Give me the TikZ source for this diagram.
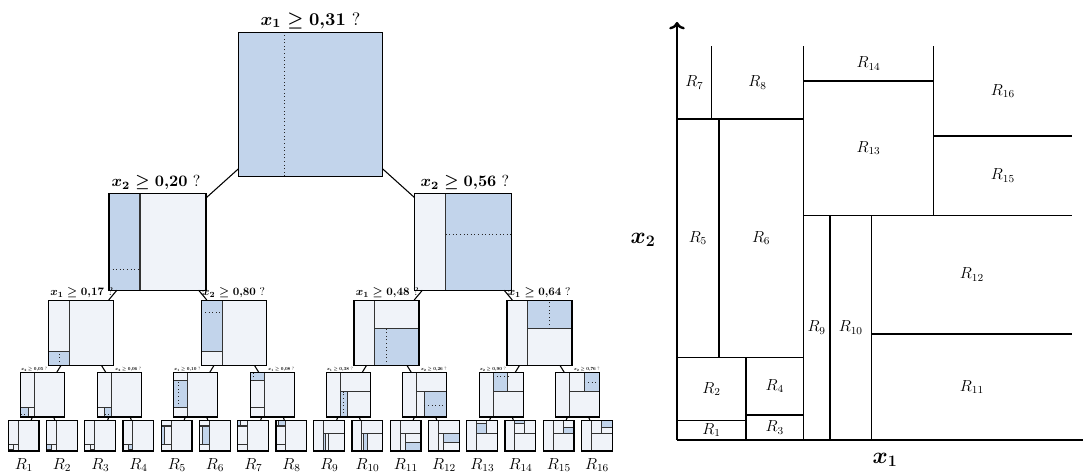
\documentclass[tikz,border=0pt]{standalone}
\usepackage{amsmath,amssymb}
\usepackage{xcolor}
\usepackage{tikz}
\usetikzlibrary{arrows.meta}

\definecolor{cellblue}{RGB}{194,212,235}
\definecolor{cellpale}{RGB}{240,243,249}

% cuts of the partition, in the unit square
\newcommand{\cutA}{(.32,0) -- (.32,1)}
\newcommand{\cutB}{(0,.21) -- (.32,.21)}
\newcommand{\cutC}{(.32,.57) -- (1,.57)}
\newcommand{\cutD}{(.175,0) -- (.175,.21)}
\newcommand{\cutE}{(0,.815) -- (.32,.815)}
\newcommand{\cutF}{(.493,0) -- (.493,.57)}
\newcommand{\cutG}{(.65,.57) -- (.65,1)}
\newcommand{\cutHa}{(0,.05) -- (.175,.05)}
\newcommand{\cutHb}{(.175,.063) -- (.32,.063)}
\newcommand{\cutHc}{(.106,.21) -- (.106,.815)}
\newcommand{\cutHd}{(.088,.815) -- (.088,1)}
\newcommand{\cutHe}{(.387,0) -- (.387,.57)}
\newcommand{\cutHf}{(.493,.269) -- (1,.269)}
\newcommand{\cutHg}{(.32,.911) -- (.65,.911)}
\newcommand{\cutHh}{(.65,.772) -- (1,.772)}

% inside of a cell: node, size, blue corners, solid cuts, dotted cut
\newcommand{\cellfill}[6]{%
  \begin{scope}[shift={(#1.south west)}, x=#2, y=#2]
    \fill[cellblue] #3 rectangle #4;
    \draw[cutline] #5;
    \draw[cutdot] #6;
    \draw[cellframe] (0,0) rectangle (1,1);
  \end{scope}}

\begin{document}
\begin{tikzpicture}[
        x=0.75pt, y=-0.75pt,
        cell/.style={rectangle, inner sep=0pt, minimum size=#1, fill=cellpale},
        cellframe/.style={draw=black, line width=0.8pt},
        cutline/.style={draw=black!80, line width=0.8pt},
        cutdot/.style={draw=black!85, line width=0.7pt, dotted},
        link/.style={draw=black, line width=0.8pt},
        cond/.style={inner sep=1.5pt},
        rname/.style={font=\large},
        regline/.style={draw=black, line width=1.1pt},
        axis/.style={draw=black, line width=1.8pt},
        >=To
    ]
        \useasboundingbox (0,0) rectangle (1083,474);

        % Tree
        \node[cell=108pt] (root) at (310.5,104) {};
        \node[cell=72.75pt] (nl) at (157.75,241.4) {};
        \node[cell=72.75pt] (nr) at (463.25,241.4) {};
        \node[cell=48.75pt] (nll) at (81.25,332.8) {};
        \node[cell=48.75pt] (nlr) at (234.25,332.8) {};
        \node[cell=48.75pt] (nrl) at (386.75,332.8) {};
        \node[cell=48.75pt] (nrr) at (539.75,332.8) {};
        \node[cell=33.3pt] (m1) at (43,394.5) {};
        \node[cell=33.3pt] (m2) at (119.5,394.5) {};
        \node[cell=33.3pt] (m3) at (196,394.5) {};
        \node[cell=33.3pt] (m4) at (272.5,394.5) {};
        \node[cell=33.3pt] (m5) at (348.5,394.5) {};
        \node[cell=33.3pt] (m6) at (425,394.5) {};
        \node[cell=33.3pt] (m7) at (501.5,394.5) {};
        \node[cell=33.3pt] (m8) at (578,394.5) {};
        \node[cell=23pt] (r1) at (23.9,435.4) {};
        \node[cell=23pt] (r2) at (62.1,435.4) {};
        \node[cell=23pt] (r3) at (100.4,435.4) {};
        \node[cell=23pt] (r4) at (138.6,435.4) {};
        \node[cell=23pt] (r5) at (176.9,435.4) {};
        \node[cell=23pt] (r6) at (215.1,435.4) {};
        \node[cell=23pt] (r7) at (253.4,435.4) {};
        \node[cell=23pt] (r8) at (291.6,435.4) {};
        \node[cell=23pt] (r9) at (329.4,435.4) {};
        \node[cell=23pt] (r10) at (367.6,435.4) {};
        \node[cell=23pt] (r11) at (405.9,435.4) {};
        \node[cell=23pt] (r12) at (444.1,435.4) {};
        \node[cell=23pt] (r13) at (482.4,435.4) {};
        \node[cell=23pt] (r14) at (520.6,435.4) {};
        \node[cell=23pt] (r15) at (558.9,435.4) {};
        \node[cell=23pt] (r16) at (597.1,435.4) {};

        % Cell contents
        \cellfill{root}{108pt}{(0,0)}{(1,1)}{}{\cutA}
        \cellfill{nl}{72.75pt}{(0,0)}{(.32,1)}{\cutA}{\cutB}
        \cellfill{nr}{72.75pt}{(.32,0)}{(1,1)}{\cutA}{\cutC}
        \cellfill{nll}{48.75pt}{(0,0)}{(.32,.21)}{\cutA \cutB}{\cutD}
        \cellfill{nlr}{48.75pt}{(0,.21)}{(.32,1)}{\cutA \cutB}{\cutE}
        \cellfill{nrl}{48.75pt}{(.32,0)}{(1,.57)}{\cutA \cutC}{\cutF}
        \cellfill{nrr}{48.75pt}{(.32,.57)}{(1,1)}{\cutA \cutC}{\cutG}
        \cellfill{m1}{33.3pt}{(0,0)}{(.175,.21)}{\cutA \cutB \cutD}{\cutHa}
        \cellfill{m2}{33.3pt}{(.175,0)}{(.32,.21)}{\cutA \cutB \cutD}{\cutHb}
        \cellfill{m3}{33.3pt}{(0,.21)}{(.32,.815)}{\cutA \cutB \cutE}{\cutHc}
        \cellfill{m4}{33.3pt}{(0,.815)}{(.32,1)}{\cutA \cutB \cutE}{\cutHd}
        \cellfill{m5}{33.3pt}{(.32,0)}{(.493,.57)}{\cutA \cutC \cutF}{\cutHe}
        \cellfill{m6}{33.3pt}{(.493,0)}{(1,.57)}{\cutA \cutC \cutF}{\cutHf}
        \cellfill{m7}{33.3pt}{(.32,.57)}{(.65,1)}{\cutA \cutC \cutG}{\cutHg}
        \cellfill{m8}{33.3pt}{(.65,.57)}{(1,1)}{\cutA \cutC \cutG}{\cutHh}
        \cellfill{r1}{23pt}{(0,0)}{(.175,.05)}{\cutA \cutB \cutD \cutHa}{}
        \cellfill{r2}{23pt}{(0,.05)}{(.175,.21)}{\cutA \cutB \cutD \cutHa}{}
        \cellfill{r3}{23pt}{(.175,0)}{(.32,.063)}{\cutA \cutB \cutD \cutHb}{}
        \cellfill{r4}{23pt}{(.175,.063)}{(.32,.21)}{\cutA \cutB \cutD \cutHb}{}
        \cellfill{r5}{23pt}{(0,.21)}{(.106,.815)}{\cutA \cutB \cutE \cutHc}{}
        \cellfill{r6}{23pt}{(.106,.21)}{(.32,.815)}{\cutA \cutB \cutE \cutHc}{}
        \cellfill{r7}{23pt}{(0,.815)}{(.088,1)}{\cutA \cutB \cutE \cutHd}{}
        \cellfill{r8}{23pt}{(.088,.815)}{(.32,1)}{\cutA \cutB \cutE \cutHd}{}
        \cellfill{r9}{23pt}{(.32,0)}{(.387,.57)}{\cutA \cutC \cutF \cutHe}{}
        \cellfill{r10}{23pt}{(.387,0)}{(.493,.57)}{\cutA \cutC \cutF \cutHe}{}
        \cellfill{r11}{23pt}{(.493,0)}{(1,.269)}{\cutA \cutC \cutF \cutHf}{}
        \cellfill{r12}{23pt}{(.493,.269)}{(1,.57)}{\cutA \cutC \cutF \cutHf}{}
        \cellfill{r13}{23pt}{(.32,.57)}{(.65,.911)}{\cutA \cutC \cutG \cutHg}{}
        \cellfill{r14}{23pt}{(.32,.911)}{(.65,1)}{\cutA \cutC \cutG \cutHg}{}
        \cellfill{r15}{23pt}{(.65,.57)}{(1,.772)}{\cutA \cutC \cutG \cutHh}{}
        \cellfill{r16}{23pt}{(.65,.772)}{(1,1)}{\cutA \cutC \cutG \cutHh}{}

        % Tree links
        \draw[link] (root) -- (nl) (root) -- (nr);
        \draw[link] (nl) -- (nll) (nl) -- (nlr) (nr) -- (nrl) (nr) -- (nrr);
        \draw[link] (nll) -- (m1) (nll) -- (m2) (nlr) -- (m3) (nlr) -- (m4);
        \draw[link] (nrl) -- (m5) (nrl) -- (m6) (nrr) -- (m7) (nrr) -- (m8);
        \draw[link] (m1) -- (r1) (m1) -- (r2) (m2) -- (r3) (m2) -- (r4);
        \draw[link] (m3) -- (r5) (m3) -- (r6) (m4) -- (r7) (m4) -- (r8);
        \draw[link] (m5) -- (r9) (m5) -- (r10) (m6) -- (r11) (m6) -- (r12);
        \draw[link] (m7) -- (r13) (m7) -- (r14) (m8) -- (r15) (m8) -- (r16);

        % Questions
        \node[cond, anchor=south, scale=1.35] (qroot) at (root.north) {$\boldsymbol{x_1 \geq 0{,}31}$ ?};
        \node[cond, anchor=south west, scale=1.2] (ql) at (nl.north west) {$\boldsymbol{x_2 \geq 0{,}20}$ ?};
        \node[cond, anchor=south east, scale=1.2] (qr) at (nr.north east) {$\boldsymbol{x_2 \geq 0{,}56}$ ?};
        \node[cond, anchor=south west, scale=0.85] (qll) at (nll.north west) {$\boldsymbol{x_1 \geq 0{,}17}$ ?};
        \node[cond, anchor=south east, scale=0.85] (qlr) at (nlr.north east) {$\boldsymbol{x_2 \geq 0{,}80}$ ?};
        \node[cond, anchor=south west, scale=0.85] (qrl) at (nrl.north west) {$\boldsymbol{x_1 \geq 0{,}48}$ ?};
        \node[cond, anchor=south east, scale=0.85] (qrr) at (nrr.north east) {$\boldsymbol{x_1 \geq 0{,}64}$ ?};
        \node[cond, anchor=south west, scale=0.35] (qm1) at (m1.north west) {$\boldsymbol{x_2 \geq 0{,}05}$ ?};
        \node[cond, anchor=south east, scale=0.35] (qm2) at (m2.north east) {$\boldsymbol{x_2 \geq 0{,}06}$ ?};
        \node[cond, anchor=south west, scale=0.35] (qm3) at (m3.north west) {$\boldsymbol{x_1 \geq 0{,}10}$ ?};
        \node[cond, anchor=south east, scale=0.35] (qm4) at (m4.north east) {$\boldsymbol{x_1 \geq 0{,}08}$ ?};
        \node[cond, anchor=south west, scale=0.35] (qm5) at (m5.north west) {$\boldsymbol{x_1 \geq 0{,}38}$ ?};
        \node[cond, anchor=south east, scale=0.35] (qm6) at (m6.north east) {$\boldsymbol{x_2 \geq 0{,}26}$ ?};
        \node[cond, anchor=south west, scale=0.35] (qm7) at (m7.north west) {$\boldsymbol{x_2 \geq 0{,}90}$ ?};
        \node[cond, anchor=south east, scale=0.35] (qm8) at (m8.north east) {$\boldsymbol{x_2 \geq 0{,}76}$ ?};

        % Leaf names
        \node[rname, below=2pt] (t1) at (r1.south) {$R_1$};
        \node[rname, below=2pt] (t2) at (r2.south) {$R_2$};
        \node[rname, below=2pt] (t3) at (r3.south) {$R_3$};
        \node[rname, below=2pt] (t4) at (r4.south) {$R_4$};
        \node[rname, below=2pt] (t5) at (r5.south) {$R_5$};
        \node[rname, below=2pt] (t6) at (r6.south) {$R_6$};
        \node[rname, below=2pt] (t7) at (r7.south) {$R_7$};
        \node[rname, below=2pt] (t8) at (r8.south) {$R_8$};
        \node[rname, below=2pt] (t9) at (r9.south) {$R_9$};
        \node[rname, below=2pt] (t10) at (r10.south) {$R_{10}$};
        \node[rname, below=2pt] (t11) at (r11.south) {$R_{11}$};
        \node[rname, below=2pt] (t12) at (r12.south) {$R_{12}$};
        \node[rname, below=2pt] (t13) at (r13.south) {$R_{13}$};
        \node[rname, below=2pt] (t14) at (r14.south) {$R_{14}$};
        \node[rname, below=2pt] (t15) at (r15.south) {$R_{15}$};
        \node[rname, below=2pt] (t16) at (r16.south) {$R_{16}$};

        % Partition of the plane
        \begin{scope}[shift={(677,440)}, x=296.25pt, y=295.5pt]
            \draw[regline] \cutA \cutB \cutC \cutD \cutE \cutF \cutG;
            \draw[regline] \cutHa \cutHb \cutHc \cutHd \cutHe \cutHf \cutHg \cutHh;
            \draw[axis] (0,0) -- (1.028,0);
            \draw[axis, ->] (0,0) -- (0,1.061);
            \node (xone) at (.527,-.051) {\LARGE$\boldsymbol{x_1}$};
            \node (xtwo) at (-.086,.508) {\LARGE$\boldsymbol{x_2}$};

            \node[rname] (p1) at (.0875,.025) {$R_1$};
            \node[rname] (p2) at (.0875,.13) {$R_2$};
            \node[rname] (p3) at (.2475,.0315) {$R_3$};
            \node[rname] (p4) at (.2475,.1365) {$R_4$};
            \node[rname] (p5) at (.053,.5125) {$R_5$};
            \node[rname] (p6) at (.213,.5125) {$R_6$};
            \node[rname] (p7) at (.044,.9075) {$R_7$};
            \node[rname] (p8) at (.204,.9075) {$R_8$};
            \node[rname] (p9) at (.3535,.285) {$R_9$};
            \node[rname] (p10) at (.44,.285) {$R_{10}$};
            \node[rname] (p11) at (.7465,.1345) {$R_{11}$};
            \node[rname] (p12) at (.7465,.4195) {$R_{12}$};
            \node[rname] (p13) at (.485,.7405) {$R_{13}$};
            \node[rname] (p14) at (.485,.9555) {$R_{14}$};
            \node[rname] (p15) at (.825,.671) {$R_{15}$};
            \node[rname] (p16) at (.825,.886) {$R_{16}$};
        \end{scope}

    \end{tikzpicture}
\end{document}
